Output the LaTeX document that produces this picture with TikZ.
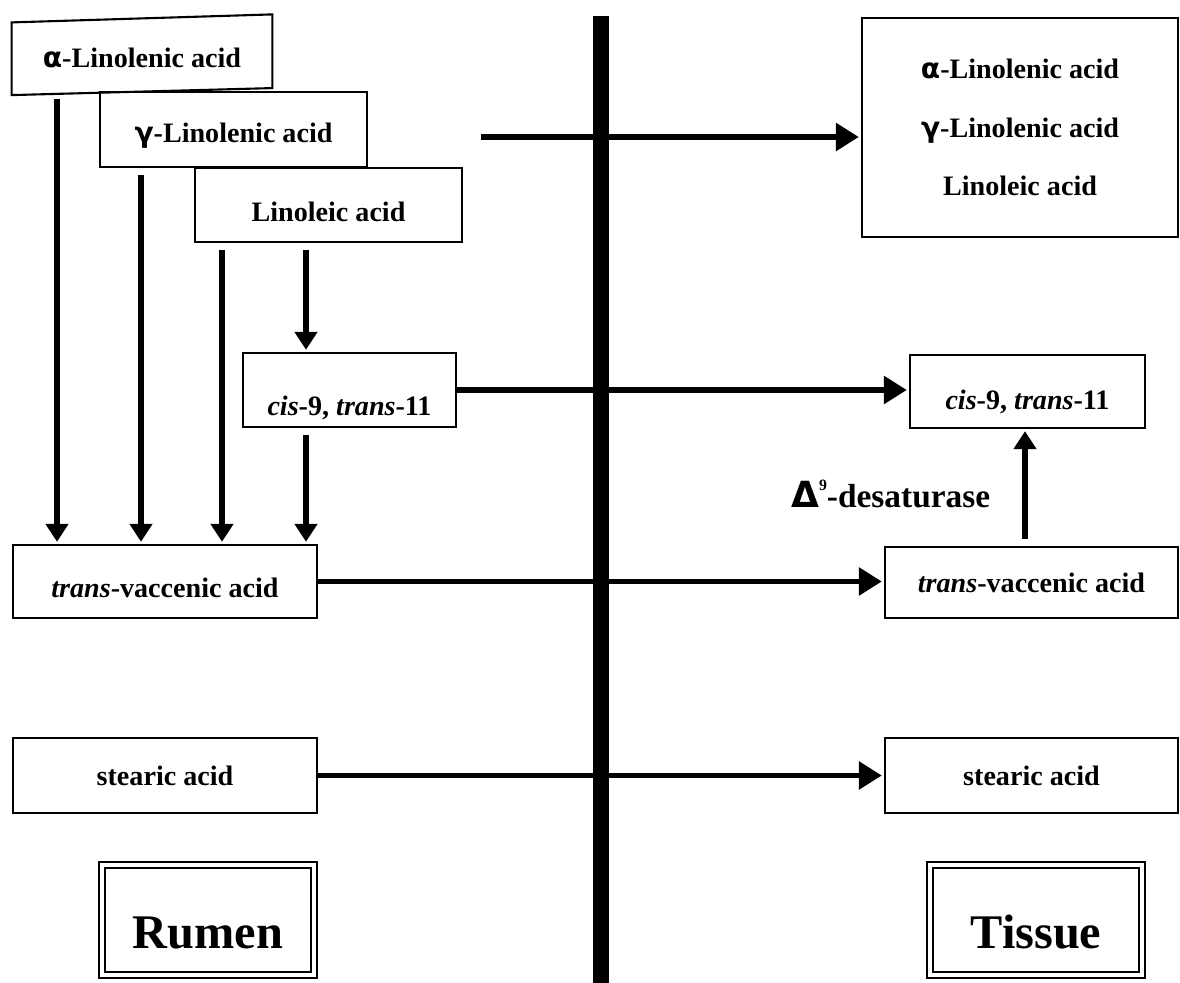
\documentclass[tikz,border=0pt]{standalone}
\usepackage{fontspec}
\setmainfont{Liberation Serif}
\newfontfamily\greekfont{DejaVu Sans}
\usetikzlibrary{arrows.meta}
\tikzset{>={Triangle[length=0.36cm,width=0.44cm]}}

\begin{document}
\begin{tikzpicture}[x=0.02cm, y=-0.02cm]
                % acid = boxed fatty acid, site = double framed compartment label
                \tikzstyle{every node}=[font=\fontsize{16}{19}\selectfont\bfseries]
                \tikzstyle{acid}=[draw, line width=1.2pt, inner sep=0pt, text depth=0pt]
                \tikzstyle{site}=[draw, double, line width=1.5pt, double distance=2pt, inner sep=0pt,
                        text depth=0pt, text height=1.12cm, minimum width=4.24cm, minimum height=2.2cm,
                        font=\fontsize{27.5}{30}\selectfont\bfseries]
                \tikzstyle{arr}=[->, line width=3.4pt, shorten <=4pt, shorten >=1.2pt]
                \tikzstyle{pass}=[arr, shorten <=0pt, -{Triangle[length=0.46cm,width=0.54cm]}]
                \useasboundingbox (0,0) rectangle (1180,983);

                % rumen side
                \node[inner sep=0pt, minimum width=5.2cm, minimum height=1.45cm, text depth=0pt, text height=0.52cm]
                        (alpha) at (142,55) {{\greekfont α}-Linolenic acid};
                \draw[line width=1.2pt] ([yshift=-0.08cm]alpha.north west) -- ([yshift=0.08cm]alpha.north east)
                        -- ([yshift=0.07cm]alpha.south east) -- ([yshift=-0.07cm]alpha.south west) -- cycle;
                \node[acid, minimum width=5.34cm, minimum height=1.5cm, text height=0.54cm]
                        (gamma) at (233.5,129.5) {{\greekfont γ}-Linolenic acid};
                \node[acid, minimum width=5.34cm, minimum height=1.48cm, text height=0.67cm]
                        (lin) at (328.5,205) {Linoleic acid};
                \node[acid, minimum width=4.26cm, minimum height=1.48cm, text height=1.04cm]
                        (cisL) at (349.5,390) {\textit{cis}-9, \textit{trans}-11};
                \node[acid, minimum width=6.08cm, minimum height=1.46cm, text height=0.66cm]
                        (tvaL) at (165,581.5) {\textit{trans}-vaccenic acid};
                \node[acid, minimum width=6.08cm, minimum height=1.5cm, text height=0.4cm]
                        (stL) at (165,775.5) {stearic acid};
                \node[site] (rumen) at (208,920) {Rumen};

                % tissue side
                \node[acid, align=center, minimum width=6.32cm, minimum height=4.38cm,
                        font=\fontsize{16}{33.2}\selectfont\bfseries]
                        (rtop) at (1020,127.5) {{\greekfont α}-Linolenic acid\\{\greekfont γ}-Linolenic acid\\Linoleic acid};
                \node[acid, minimum width=4.7cm, minimum height=1.46cm, text height=0.74cm]
                        (cisR) at (1027.5,391.5) {\textit{cis}-9, \textit{trans}-11};
                \node[acid, minimum width=5.86cm, minimum height=1.42cm, text height=0.4cm]
                        (tvaR) at (1031.5,582.5) {\textit{trans}-vaccenic acid};
                \node[acid, minimum width=5.86cm, minimum height=1.5cm, text height=0.4cm]
                        (stR) at (1031.5,775.5) {stearic acid};
                \node[site] (tissue) at (1036,920) {Tissue};
                \node[anchor=base west, font=\fontsize{19}{22}\selectfont\bfseries] (des) at (785,507)
                        {{\greekfont\fontsize{20.5}{22}\selectfont Δ}\raisebox{0.33cm}{\fontsize{9}{9}\selectfont 9}-desaturase};

                % the wall between rumen and tissue
                \draw[line width=0.32cm] (601,16) -- (601,983);

                % lanes of the vertical arrows
                \coordinate (l1) at (57,0);
                \coordinate (l2) at (141,0);
                \coordinate (l3) at (222,0);
                \coordinate (l4) at (306,0);
                \coordinate (l5) at (1025,0);
                \coordinate (src) at (481,137);

                \draw[arr] (alpha.south -| l1) -- (tvaL.north -| l1);
                \draw[arr] (gamma.south -| l2) -- (tvaL.north -| l2);
                \draw[arr] (lin.south -| l3) -- (tvaL.north -| l3);
                \draw[arr] (lin.south -| l4) -- (cisL.north -| l4);
                \draw[arr] (cisL.south -| l4) -- (tvaL.north -| l4);

                % transfer into tissue
                \draw[pass] (src) -- (rtop.west |- src);
                \draw[pass] (cisL.east) -- (cisL.east -| cisR.west);
                \draw[pass] (tvaL.east) -- (tvaL.east -| tvaR.west);
                \draw[pass] (stL.east) -- (stL.east -| stR.west);
                \draw[arr] (tvaR.north -| l5) -- (cisR.south -| l5);
\end{tikzpicture}
\end{document}
